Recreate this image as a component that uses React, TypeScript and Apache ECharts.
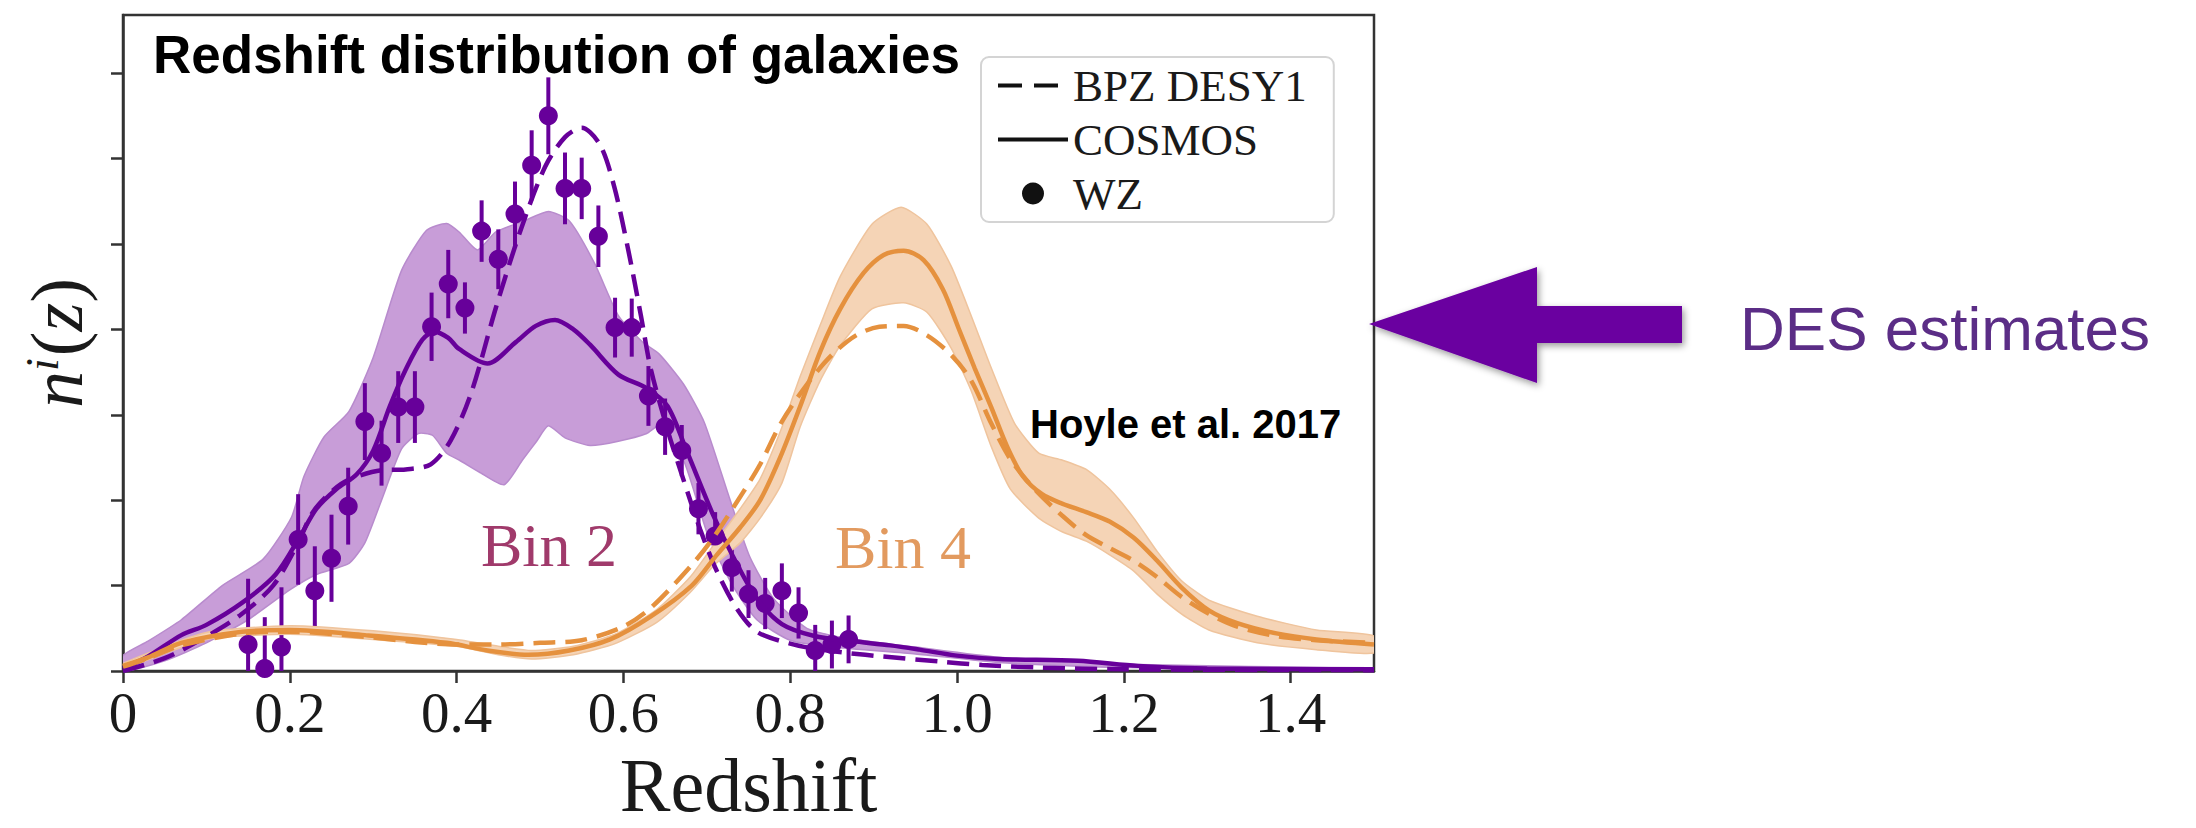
import React, { useEffect, useRef } from 'react';
import * as echarts from 'echarts';

// ---------- axis ticks ----------
const xTickValues = [0, 0.2, 0.4, 0.6, 0.8, 1.0, 1.2, 1.4];
const xTickLabels = ['0', '0.2', '0.4', '0.6', '0.8', '1.0', '1.2', '1.4'];
const yTickValues = [0, 1, 2, 3, 4, 5, 6, 7];

// ---------- Bin 2 (purple) ----------
const bin2Cosmos = [
  [0.0, 0.03], [0.03, 0.17], [0.07, 0.42], [0.1, 0.54], [0.143, 0.8], [0.183, 1.13], [0.212, 1.57],
  [0.232, 1.9], [0.256, 2.13], [0.28, 2.3], [0.3, 2.58], [0.32, 3.1], [0.339, 3.53], [0.359, 3.88],
  [0.374, 3.97], [0.39, 3.9], [0.403, 3.77], [0.437, 3.6], [0.471, 3.85], [0.495, 4.04], [0.518, 4.11],
  [0.54, 4.0], [0.56, 3.82], [0.594, 3.47], [0.628, 3.31], [0.653, 3.1], [0.677, 2.55], [0.707, 1.84],
  [0.731, 1.35], [0.76, 0.85], [0.79, 0.55], [0.829, 0.41], [0.874, 0.35], [0.92, 0.3], [0.955, 0.25],
  [1.0, 0.18], [1.05, 0.14], [1.145, 0.12], [1.217, 0.06], [1.3, 0.03], [1.5, 0.02],
];
const bin2Bpz = [
  [0.0, 0.0], [0.05, 0.15], [0.094, 0.37], [0.14, 0.65], [0.18, 1.0], [0.21, 1.5], [0.227, 1.85],
  [0.25, 2.1], [0.271, 2.24], [0.31, 2.35], [0.339, 2.36], [0.369, 2.42], [0.393, 2.7], [0.418, 3.27],
  [0.447, 4.25], [0.476, 5.14], [0.506, 5.9], [0.53, 6.25], [0.55, 6.36], [0.572, 6.16], [0.589, 5.67],
  [0.606, 4.92], [0.621, 4.16], [0.633, 3.53], [0.653, 2.82], [0.672, 2.24], [0.692, 1.66], [0.712, 1.17],
  [0.736, 0.73], [0.76, 0.46], [0.8, 0.32], [0.83, 0.26], [0.87, 0.21], [0.91, 0.17], [0.98, 0.11],
  [1.03, 0.07], [1.1, 0.04], [1.2, 0.02], [1.5, 0.01],
];
const bin2BandUpper = [
  [0.0, 0.18], [0.03, 0.35], [0.07, 0.6], [0.119, 1.0], [0.168, 1.31], [0.202, 1.8], [0.217, 2.28],
  [0.241, 2.74], [0.271, 3.04], [0.3, 3.67], [0.334, 4.69], [0.364, 5.16], [0.388, 5.24], [0.403, 5.14],
  [0.425, 4.93], [0.447, 5.14], [0.481, 5.27], [0.51, 5.38], [0.535, 5.27], [0.565, 4.78], [0.594, 4.16],
  [0.623, 3.85], [0.643, 3.71], [0.672, 3.36], [0.697, 2.91], [0.726, 2.06], [0.751, 1.35], [0.78, 0.85],
  [0.82, 0.5], [0.87, 0.38], [0.95, 0.28], [1.05, 0.16], [1.2, 0.08], [1.5, 0.03],
];
const bin2BandLower = [
  [0.0, 0.0], [0.05, 0.12], [0.1, 0.33], [0.15, 0.6], [0.2, 0.95], [0.232, 1.13], [0.271, 1.26],
  [0.29, 1.5], [0.31, 2.0], [0.334, 2.6], [0.354, 2.78], [0.371, 2.76], [0.388, 2.55], [0.403, 2.47],
  [0.427, 2.33], [0.457, 2.18], [0.479, 2.47], [0.496, 2.69], [0.51, 2.87], [0.53, 2.73], [0.56, 2.64],
  [0.594, 2.69], [0.628, 2.78], [0.643, 2.87], [0.672, 2.47], [0.702, 1.57], [0.731, 1.0], [0.76, 0.6],
  [0.8, 0.36], [0.85, 0.28], [0.95, 0.2], [1.05, 0.1], [1.2, 0.04], [1.5, 0.01],
];

// WZ clustering points (Bin 2)
const wzZ = [
  0.15, 0.17, 0.19, 0.21, 0.23, 0.25, 0.27, 0.29, 0.31, 0.33, 0.35, 0.37, 0.39, 0.41, 0.43, 0.45, 0.47,
  0.49, 0.51, 0.53, 0.55, 0.57, 0.59, 0.61, 0.63, 0.65, 0.67, 0.69, 0.71, 0.73, 0.75, 0.77, 0.79, 0.81,
  0.83, 0.85, 0.87,
];
const wzN = [
  0.31, 0.03, 0.28, 1.54, 0.94, 1.32, 1.93, 2.92, 2.55, 3.09, 3.09, 4.03, 4.53, 4.25, 5.15, 4.82, 5.35,
  5.92, 6.5, 5.65, 5.65, 5.09, 4.02, 4.02, 3.22, 2.86, 2.58, 1.9, 1.58, 1.21, 0.9, 0.79, 0.94, 0.68,
  0.24, 0.31, 0.37,
];
const wzErr = [
  0.77, 0.6, 0.7, 0.53, 0.52, 0.51, 0.45, 0.45, 0.38, 0.42, 0.42, 0.4, 0.4, 0.3, 0.36, 0.35, 0.38,
  0.41, 0.45, 0.42, 0.36, 0.36, 0.35, 0.34, 0.35, 0.33, 0.3, 0.3, 0.28, 0.28, 0.28, 0.3, 0.32, 0.3,
  0.3, 0.28, 0.28,
];

// ---------- Bin 4 (orange) ----------
const bin4Cosmos = [
  [0.0, 0.06], [0.03, 0.16], [0.07, 0.33], [0.143, 0.46], [0.2, 0.48], [0.29, 0.42], [0.388, 0.33],
  [0.437, 0.24], [0.486, 0.19], [0.535, 0.24], [0.584, 0.37], [0.633, 0.64], [0.682, 1.0], [0.712, 1.36],
  [0.74, 1.68], [0.764, 2.0], [0.788, 2.5], [0.812, 3.1], [0.836, 3.74], [0.86, 4.24], [0.888, 4.66],
  [0.912, 4.87], [0.936, 4.92], [0.96, 4.81], [0.983, 4.47], [1.002, 4.01], [1.021, 3.55], [1.041, 3.09],
  [1.06, 2.63], [1.079, 2.28], [1.102, 2.07], [1.126, 1.96], [1.155, 1.86], [1.183, 1.75], [1.212, 1.56],
  [1.24, 1.29], [1.269, 0.98], [1.302, 0.71], [1.336, 0.56], [1.383, 0.44], [1.431, 0.37], [1.5, 0.31],
];
const bin4Bpz = [
  [0.0, 0.05], [0.03, 0.15], [0.07, 0.3], [0.143, 0.44], [0.2, 0.46], [0.29, 0.4], [0.35, 0.34],
  [0.4, 0.31], [0.45, 0.31], [0.5, 0.33], [0.55, 0.36], [0.6, 0.52], [0.633, 0.74], [0.68, 1.22],
  [0.707, 1.55], [0.744, 2.1], [0.764, 2.42], [0.79, 2.92], [0.822, 3.38], [0.85, 3.7], [0.879, 3.93],
  [0.907, 4.03], [0.936, 4.04], [0.964, 3.93], [0.993, 3.7], [1.017, 3.4], [1.041, 2.9], [1.064, 2.48],
  [1.093, 2.13], [1.126, 1.82], [1.155, 1.59], [1.183, 1.44], [1.212, 1.29], [1.24, 1.1], [1.269, 0.87],
  [1.302, 0.67], [1.336, 0.52], [1.383, 0.41], [1.431, 0.36], [1.5, 0.33],
];
const bin4BandUpper = [
  [0.0, 0.09], [0.1, 0.45], [0.2, 0.53], [0.3, 0.47], [0.4, 0.37], [0.45, 0.29], [0.49, 0.24],
  [0.54, 0.29], [0.59, 0.43], [0.64, 0.72], [0.68, 1.1], [0.71, 1.5], [0.74, 1.9], [0.764, 2.25],
  [0.79, 2.85], [0.812, 3.45], [0.836, 4.05], [0.86, 4.62], [0.898, 5.23], [0.933, 5.43], [0.964, 5.23],
  [0.993, 4.74], [1.017, 4.16], [1.041, 3.55], [1.069, 2.9], [1.098, 2.55], [1.126, 2.47], [1.155, 2.36],
  [1.183, 2.13], [1.212, 1.79], [1.24, 1.4], [1.269, 1.06], [1.302, 0.83], [1.36, 0.64], [1.431, 0.48],
  [1.5, 0.41],
];
const bin4BandLower = [
  [0.0, 0.03], [0.1, 0.37], [0.2, 0.43], [0.3, 0.37], [0.4, 0.29], [0.45, 0.19], [0.49, 0.14],
  [0.54, 0.19], [0.59, 0.32], [0.64, 0.57], [0.68, 0.92], [0.71, 1.25], [0.74, 1.5], [0.764, 1.79],
  [0.79, 2.2], [0.812, 2.86], [0.836, 3.4], [0.86, 3.81], [0.898, 4.24], [0.936, 4.31], [0.964, 4.2],
  [0.993, 3.78], [1.017, 3.28], [1.041, 2.63], [1.064, 2.13], [1.098, 1.79], [1.126, 1.63], [1.155, 1.52],
  [1.183, 1.36], [1.212, 1.17], [1.24, 0.9], [1.269, 0.67], [1.302, 0.48], [1.36, 0.33], [1.431, 0.25],
  [1.5, 0.21],
];

const legendNames = ['BPZ DESY1', 'COSMOS', 'WZ'];

const PURPLE = '#67009a';
const PURPLE_BAND = '#c89dd8';
const PURPLE_BAND_EDGE = '#b88bcd';
const ORANGE = '#e5913e';
const ORANGE_BAND = '#f5d4b6';
const ORANGE_BAND_EDGE = '#efc49d';
const AXIS = '#333333';
const SERIF = '"Liberation Serif", "Times New Roman", serif';
const SANS = '"Liberation Sans", Arial, sans-serif';

// legend sample icons (bounding box 70 x 22 kept by tiny corner marks)
const CORNERS = 'M0,0h0.02v0.02h-0.02z M69.98,21.98h0.02v0.02h-0.02z';
const ICON_DASHED = `path://M0,9h24v4h-24z M36,9h24v4h-24z ${CORNERS}`;
const ICON_SOLID = `path://M0,9h70v4h-70z ${CORNERS}`;

function bandSeries(upper: number[][], lower: number[][], fill: string, stroke: string) {
  return {
    type: 'custom',
    silent: true,
    clip: true,
    data: [[upper[0][0], upper[0][1]]],
    encode: { x: 0, y: 1 },
    renderItem: (_params: any, api: any) => {
      const pts = upper
        .map((p) => api.coord(p))
        .concat(lower.slice().reverse().map((p) => api.coord(p)));
      return {
        type: 'polygon',
        shape: { points: pts, smooth: 0.2 },
        style: { fill, stroke, lineWidth: 1.5 },
      };
    },
  };
}

function lineSeries(data: number[][], color: string, dashed: boolean) {
  return {
    type: 'line',
    data,
    smooth: 0.3,
    symbol: 'none',
    silent: true,
    lineStyle: { color, width: 4.5, type: dashed ? [22, 10] : 'solid' },
  };
}

export default function App() {
  const ref = useRef<HTMLDivElement>(null);

  useEffect(() => {
    if (!ref.current) return;
    const chart = echarts.init(ref.current, null, { renderer: 'svg' });
    const wzData = wzZ.map((z, i) => [z, wzN[i], wzErr[i]]);

    chart.setOption({
      animation: false,
      backgroundColor: '#ffffff',
      grid: {
        left: 123,
        right: 2196 - 1374,
        top: 15,
        bottom: 828 - 682,
        show: true,
        borderColor: AXIS,
        borderWidth: 2.5,
        backgroundColor: 'transparent',
      },
      xAxis: {
        type: 'value',
        min: 0,
        max: 1.5,
        splitLine: { show: false },
        axisLine: { show: true, lineStyle: { color: AXIS, width: 2.5 } },
        axisTick: { show: true, customValues: xTickValues, length: 12, lineStyle: { color: AXIS, width: 2.5 } },
        axisLabel: {
          customValues: xTickValues,
          formatter: (v: number) => {
            const i = xTickValues.findIndex((t) => Math.abs(t - v) < 1e-6);
            return i >= 0 ? xTickLabels[i] : '';
          },
          fontFamily: SERIF,
          fontSize: 57,
          color: '#1a1a1a',
          margin: 13,
        },
        name: 'Redshift',
        nameLocation: 'middle',
        nameGap: 76,
        nameTextStyle: { fontFamily: SERIF, fontSize: 76, color: '#1a1a1a' },
      },
      yAxis: {
        type: 'value',
        min: 0,
        max: 7.68,
        splitLine: { show: false },
        axisLine: { show: true, lineStyle: { color: AXIS, width: 2.5 } },
        axisTick: { show: true, customValues: yTickValues, length: 12, lineStyle: { color: AXIS, width: 2.5 } },
        axisLabel: { show: false },
        name: '{n|n}{s|i}{p|(}{n|z}{p|)}',
        nameLocation: 'middle',
        nameRotate: 90,
        nameGap: 28,
        nameTextStyle: {
          rich: {
            n: { fontFamily: SERIF, fontStyle: 'italic', fontSize: 74, color: '#1a1a1a' },
            s: { fontFamily: SERIF, fontStyle: 'italic', fontSize: 46, color: '#1a1a1a', padding: [0, 2, 30, 0] },
            p: { fontFamily: SERIF, fontSize: 74, color: '#1a1a1a' },
          },
        },
      },
      legend: {
        data: [
          { name: legendNames[0], icon: ICON_DASHED },
          { name: legendNames[1], icon: ICON_SOLID },
          { name: legendNames[2], icon: 'circle' },
        ],
        orient: 'vertical',
        left: 981,
        top: 57,
        padding: [6, 27, 6, 17],
        itemWidth: 70,
        itemHeight: 22,
        itemGap: 9,
        selectedMode: false,
        symbolKeepAspect: true,
        backgroundColor: '#ffffff',
        borderColor: '#d4d4d4',
        borderWidth: 2,
        borderRadius: 8,
        itemStyle: { color: '#111', borderWidth: 0, opacity: 1 },
        textStyle: { fontFamily: SERIF, fontSize: 45, lineHeight: 44, color: '#1a1a1a' },
      },
      graphic: [
        {
          type: 'text',
          x: 153,
          y: 54,
          style: {
            text: 'Redshift distribution of galaxies',
            fontFamily: SANS,
            fontWeight: 'bold',
            fontSize: 53,
            fill: '#000',
            align: 'left',
            verticalAlign: 'middle',
          },
        },
        {
          type: 'text',
          x: 1030,
          y: 424,
          style: {
            text: 'Hoyle et al. 2017',
            fontFamily: SANS,
            fontWeight: 'bold',
            fontSize: 40,
            fill: '#000',
            align: 'left',
            verticalAlign: 'middle',
          },
        },
        {
          type: 'text',
          x: 481,
          y: 545,
          style: {
            text: 'Bin 2',
            fontFamily: SERIF,
            fontSize: 62,
            fill: '#a03a6b',
            align: 'left',
            verticalAlign: 'middle',
          },
        },
        {
          type: 'text',
          x: 835,
          y: 547,
          style: {
            text: 'Bin 4',
            fontFamily: SERIF,
            fontSize: 62,
            fill: '#e29a5f',
            align: 'left',
            verticalAlign: 'middle',
          },
        },
        {
          type: 'polygon',
          shape: {
            points: [
              [1369, 324], [1537, 267], [1537, 306], [1682, 306],
              [1682, 343], [1537, 343], [1537, 383],
            ],
          },
          style: {
            fill: '#6a00a0',
            shadowBlur: 7,
            shadowColor: 'rgba(0,0,0,0.4)',
            shadowOffsetX: 2,
            shadowOffsetY: 3,
          },
        },
        {
          type: 'text',
          x: 1740,
          y: 328,
          style: {
            text: 'DES estimates',
            fontFamily: SANS,
            fontSize: 62,
            fill: '#5b2d86',
            align: 'left',
            verticalAlign: 'middle',
          },
        },
      ],
      series: [
        bandSeries(bin2BandUpper, bin2BandLower, PURPLE_BAND, PURPLE_BAND_EDGE),
        { ...lineSeries(bin2Bpz, PURPLE, true), name: 'bin2-bpz' },
        { ...lineSeries(bin2Cosmos, PURPLE, false), name: 'bin2-cosmos' },
        {
          type: 'custom',
          name: 'wz-errors',
          silent: true,
          clip: true,
          data: wzData,
          encode: { x: 0, y: 1 },
          renderItem: (_params: any, api: any) => {
            const z = api.value(0);
            const n = api.value(1);
            const e = api.value(2);
            const top = api.coord([z, n + e]);
            const bot = api.coord([z, n - e]);
            return {
              type: 'line',
              shape: { x1: top[0], y1: top[1], x2: bot[0], y2: bot[1] },
              style: { stroke: PURPLE, lineWidth: 4 },
            };
          },
        },
        {
          type: 'scatter',
          name: 'wz-points',
          silent: true,
          data: wzZ.map((z, i) => [z, wzN[i]]),
          symbol: 'circle',
          symbolSize: 19,
          itemStyle: { color: PURPLE, opacity: 1 },
        },
        bandSeries(bin4BandUpper, bin4BandLower, ORANGE_BAND, ORANGE_BAND_EDGE),
        { ...lineSeries(bin4Bpz, ORANGE, true), name: 'bin4-bpz' },
        { ...lineSeries(bin4Cosmos, ORANGE, false), name: 'bin4-cosmos' },
        // legend-only entries (black samples)
        {
          name: legendNames[0],
          type: 'line',
          data: [],
          symbol: 'none',
          itemStyle: { color: '#111', opacity: 1 },
          lineStyle: { color: '#111', width: 4, type: [24, 12] },
        },
        {
          name: legendNames[1],
          type: 'line',
          data: [],
          symbol: 'none',
          itemStyle: { color: '#111', opacity: 1 },
          lineStyle: { color: '#111', width: 4 },
        },
        {
          name: legendNames[2],
          type: 'scatter',
          data: [],
          symbol: 'circle',
          symbolSize: 22,
          itemStyle: { color: '#111', opacity: 1 },
        },
      ],
    });

    return () => chart.dispose();
  }, []);

  return (
    <div
      ref={ref}
      style={{ position: 'absolute', left: 0, top: 0, width: 2196, height: 828 }}
    />
  );
}
